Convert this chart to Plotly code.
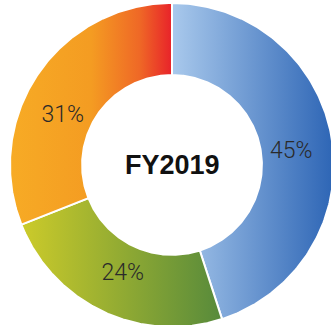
import numpy as np
import plotly.graph_objects as go

# Segment shares (percent), drawn clockwise from 12 o'clock
labels = ["45%", "24%", "31%"]
shares = [45, 24, 31]
# Horizontal gradient per segment (position, colour) from left to right
gradients = [
    [[0, "#a9c9ec"], [1, "#2d65b5"]],
    [[0, "#cccb2a"], [1, "#578a3b"]],
    [[0, "#f7ab25"], [0.5, "#f49c22"], [0.8, "#ef6826"], [1, "#e8222a"]],
]
center_title = "FY2019"

R_OUT = 1.0
R_IN = 0.555
# Angular nudge (degrees) applied to each label's mid-angle position
label_nudge = [3, -1, -10]
LABEL_R = 0.74

fig = go.Figure()

total = float(sum(shares))
start = 0.0
label_x, label_y = [], []
for share, scale, nudge in zip(shares, gradients, label_nudge):
    a0 = start / total * 2 * np.pi
    a1 = (start + share) / total * 2 * np.pi
    t = np.linspace(a0, a1, 200)
    xs = np.concatenate([R_OUT * np.sin(t), R_IN * np.sin(t[::-1])])
    ys = np.concatenate([R_OUT * np.cos(t), R_IN * np.cos(t[::-1])])
    xs = np.append(xs, xs[0])
    ys = np.append(ys, ys[0])
    fig.add_trace(go.Scatter(
        x=xs, y=ys, mode="lines", fill="toself",
        line=dict(color="white", width=2),
        fillgradient=dict(type="horizontal", colorscale=scale),
        hoverinfo="skip", showlegend=False,
    ))
    mid = (a0 + a1) / 2 + np.radians(nudge)
    label_x.append(LABEL_R * np.sin(mid))
    label_y.append(LABEL_R * np.cos(mid))
    start += share

fig.add_trace(go.Scatter(
    x=label_x, y=label_y, mode="text", text=labels,
    textfont=dict(family="Roboto", size=23, color="#2a2a2a", weight=300),
    hoverinfo="skip", showlegend=False,
))

fig.add_annotation(
    x=0, y=0, text=f"<b>{center_title}</b>", showarrow=False,
    font=dict(family="Liberation Sans, Arial, sans-serif", size=27, color="#111111"),
    xanchor="center", yanchor="middle",
)

fig.update_xaxes(range=[-172 / 162, 159 / 162], visible=False, fixedrange=True)
fig.update_yaxes(range=[-160 / 162, 165 / 162], visible=False, fixedrange=True)
fig.update_layout(
    width=331, height=325,
    margin=dict(l=0, r=0, t=0, b=0),
    paper_bgcolor="white", plot_bgcolor="white",
)

fig.write_html("out.html")
